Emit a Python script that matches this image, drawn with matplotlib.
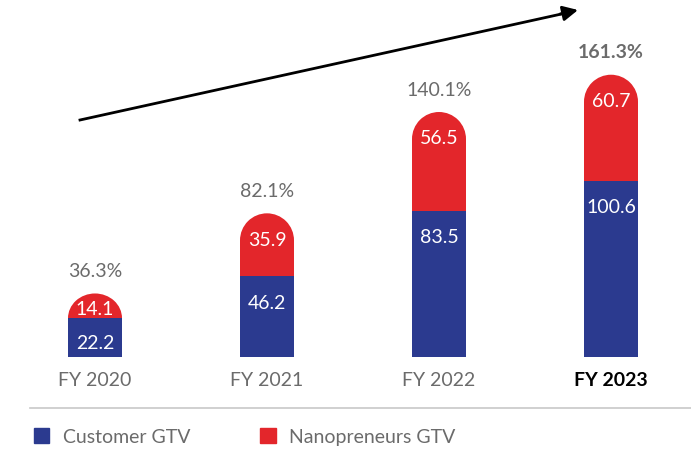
import matplotlib.pyplot as plt
from matplotlib.patches import Rectangle, Ellipse, Patch
from matplotlib.lines import Line2D

plt.rcParams['font.family'] = ['Lato', 'DejaVu Sans']

years = ['FY 2020', 'FY 2021', 'FY 2022', 'FY 2023']
customer = [22.2, 46.2, 83.5, 100.6]
nano = [14.1, 35.9, 56.5, 60.7]
totals = ['36.3%', '82.1%', '140.1%', '161.3%']

BLUE = '#2b3a8f'
RED = '#e3262b'
GREY = '#6b6b6b'

W, H = 691, 450
fig = plt.figure(figsize=(W / 100, H / 100), dpi=100)

# axes spans the whole width; baseline sits 93 px above the bottom
px_per_unit = 1.75
ax = fig.add_axes([0, 93 / H, 1, 1 - 93 / H])
ax.set_xlim(-95 / 172, (W - 95) / 172)
ax.set_ylim(0, (H - 93) / px_per_unit)
ax.axis('off')

bw = 54 / 172
r = 27 / px_per_unit  # cap radius in data units

for i in range(len(years)):
    c, n = customer[i], nano[i]
    top = c + n
    cap = min(r, n)
    ax.add_patch(Rectangle((i - bw / 2, c), bw, n - cap, color=RED, lw=0, zorder=1))
    ax.add_patch(Ellipse((i, top - cap), bw, 2 * cap, color=RED, lw=0, zorder=1))
    ax.add_patch(Rectangle((i - bw / 2, 0), bw, c, color=BLUE, lw=0, zorder=2))

    # value labels sit a fixed distance below each segment top
    for val, seg_top, seg_h in [(c, c, c), (n, top, n)]:
        off = min(27, seg_h * px_per_unit * 0.65)
        ax.annotate(f'{val:.1f}', (i, seg_top), xytext=(0, -off * 0.72),
                    textcoords='offset points', ha='center', va='center',
                    color='white', fontsize=14, zorder=3)

    bold = i == len(years) - 1
    ax.annotate(totals[i], (i, top), xytext=(0, 22 * 0.72), textcoords='offset points',
                ha='center', va='center', color=GREY, fontsize=14,
                fontweight='bold' if bold else 'normal')
    ax.annotate(years[i], (i, 0), xytext=(0, -23 * 0.72), textcoords='offset points',
                ha='center', va='center', fontsize=14,
                color='black' if bold else GREY,
                fontweight='bold' if bold else 'normal')

# growth arrow
fig.add_artist(Line2D([80 / W, 566 / W], [1 - 120 / H, 1 - 13 / H], color='black', lw=2))
ax.annotate('', xy=(578 / W, 1 - 10 / H), xytext=(560 / W, 1 - 14 / H),
            xycoords='figure fraction', textcoords='figure fraction',
            arrowprops=dict(arrowstyle='-|>,head_length=0.9,head_width=0.45',
                            color='black', lw=2, shrinkA=0, shrinkB=0))

# separator above the legend
fig.add_artist(Line2D([30 / W, 1], [1 - 408 / H, 1 - 408 / H], color='#c8c8c8', lw=1.2))

handles = [Patch(color=BLUE, label='Customer GTV'), Patch(color=RED, label='Nanopreneurs GTV')]
leg = fig.legend(handles=handles, loc='center left', bbox_to_anchor=(16 / W, 1 - 437 / H),
                 ncol=2, frameon=False, fontsize=14, handlelength=0.8, handleheight=0.8,
                 handletextpad=0.7, columnspacing=3.6)
for t in leg.get_texts():
    t.set_color(GREY)

fig.savefig('out.png', dpi=100)
